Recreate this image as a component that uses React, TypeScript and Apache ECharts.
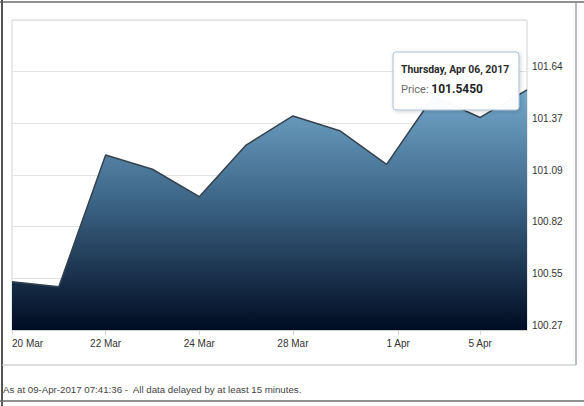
import React, { useEffect, useRef } from "react";
import * as echarts from "echarts";

// ---- data ----
const dates = [
  "2017-03-20", "2017-03-21", "2017-03-22", "2017-03-23", "2017-03-24",
  "2017-03-27", "2017-03-28", "2017-03-29", "2017-03-31",
  "2017-04-04", "2017-04-05", "2017-04-06",
];
const prices = [
  100.530, 100.503, 101.200, 101.125, 100.980,
  101.253, 101.407, 101.329, 101.151,
  101.510, 101.399, 101.545,
];
const tickDates = ["2017-03-20", "2017-03-22", "2017-03-24", "2017-03-28", "2017-04-01", "2017-04-05"];
const yBase = 100.274;
const yStep = 0.2735;
const ySteps = 6;
const tooltipTitle = "Thursday, Apr 06, 2017";
const tooltipLabel = "Price: ";
const tooltipValue = "101.5450";
const footerText = "As at 09-Apr-2017 07:41:36 -  All data delayed by at least 15 minutes.";

const MONTHS = ["Jan", "Feb", "Mar", "Apr", "May", "Jun", "Jul", "Aug", "Sep", "Oct", "Nov", "Dec"];
const toMs = (s: string) => {
  const [y, m, d] = s.split("-").map(Number);
  return Date.UTC(y, m - 1, d);
};
const dateMs = dates.map(toMs);
// ordinal position (Highstock-like) of a date between data points
const ordinalPos = (s: string) => {
  const t = toMs(s);
  for (let i = 0; i < dateMs.length - 1; i++) {
    if (t >= dateMs[i] && t <= dateMs[i + 1]) {
      return i + (t - dateMs[i]) / (dateMs[i + 1] - dateMs[i]);
    }
  }
  return t <= dateMs[0] ? 0 : dateMs.length - 1;
};
const tickPos = tickDates.map(ordinalPos);
const tickLabel = (s: string) => {
  const [, m, d] = s.split("-").map(Number);
  return `${d} ${MONTHS[m - 1]}`;
};

export default function App() {
  const ref = useRef<HTMLDivElement>(null);
  useEffect(() => {
    document.body.style.margin = "0";
    const chart = echarts.init(ref.current!, null, { renderer: "svg" });
    const axisFont = "Arial, 'Liberation Sans', sans-serif";
    const tipFont = "Roboto, 'Open Sans', sans-serif";
    chart.setOption({
      animation: false,
      backgroundColor: "#ffffff",
      grid: {
        left: 12,
        top: 20,
        width: 515,
        height: 310,
        show: true,
        borderColor: "#d2d2d2",
        borderWidth: 1,
        backgroundColor: "#ffffff",
        containLabel: false,
        outerBoundsMode: "none",
      },
      xAxis: {
        type: "value",
        min: 0,
        max: dates.length - 1,
        axisLine: { show: true, lineStyle: { color: "#cfcfcf", width: 1 } },
        axisTick: {
          show: true,
          customValues: tickPos,
          length: 5,
          lineStyle: { color: "#d6d6d6" },
        },
        splitLine: { show: false },
        axisLabel: {
          customValues: tickPos,
          alignMinLabel: "left",
          margin: 8,
          fontSize: 10,
          fontFamily: axisFont,
          color: "#333333",
          formatter: (v: number) => {
            let best = 0;
            tickPos.forEach((p, i) => {
              if (Math.abs(p - v) < Math.abs(tickPos[best] - v)) best = i;
            });
            return tickLabel(tickDates[best]);
          },
        },
      },
      yAxis: {
        type: "value",
        position: "right",
        min: 0,
        max: +(yStep * ySteps).toFixed(4),
        interval: yStep,
        axisLine: { show: false },
        axisTick: { show: false },
        splitLine: { show: true, lineStyle: { color: "#e2e2e2", width: 1 } },
        axisLabel: {
          margin: 5,
          fontSize: 10,
          lineHeight: 10,
          verticalAlign: "bottom",
          fontFamily: axisFont,
          color: "#333333",
          formatter: (v: number) =>
            v >= yStep * ySteps - 1e-6 ? "" : (yBase + v).toFixed(2),
        },
      },
      series: [
        {
          type: "line",
          z: 2,
          data: prices.map((p, i) => [i, +(p - yBase).toFixed(4)]),
          symbol: "none",
          lineStyle: { color: "#34434f", width: 1.5 },
          areaStyle: {
            opacity: 1,
            color: new echarts.graphic.LinearGradient(0, 0, 0, 1, [
              { offset: 0, color: "#74a8cb" },
              { offset: 0.45, color: "#3e6788" },
              { offset: 1, color: "#000c22" },
            ]),
          },
        },
      ],
      graphic: {
        z: 100,
        elements: [
          // outer frame
          { type: "line", z: 100, shape: { x1: 0, y1: 2, x2: 584, y2: 2 }, style: { stroke: "#6a6a6a", lineWidth: 1.5 }, silent: true },
          { type: "line", z: 100, shape: { x1: 2, y1: 0, x2: 2, y2: 406 }, style: { stroke: "#555555", lineWidth: 2 }, silent: true },
          { type: "line", z: 100, shape: { x1: 576, y1: 2, x2: 576, y2: 365 }, style: { stroke: "#8a8f96", lineWidth: 1.2 }, silent: true },
          { type: "line", z: 100, shape: { x1: 2, y1: 365, x2: 576, y2: 365 }, style: { stroke: "#b9bec4", lineWidth: 1 }, silent: true },
          { type: "line", z: 100, shape: { x1: 0, y1: 401, x2: 584, y2: 401 }, style: { stroke: "#6a6a6a", lineWidth: 1.5 }, silent: true },
          // footer
          {
            type: "text",
            z: 100,
            x: 3,
            y: 389,
            style: {
              text: footerText,
              fontSize: 9.7,
              fontFamily: axisFont,
              fill: "#444444",
              verticalAlign: "middle",
            },
            silent: true,
          },
          // static tooltip box
          {
            type: "rect",
            z: 100,
            shape: { x: 393, y: 52, width: 126, height: 58, r: 3 },
            style: {
              fill: "rgba(255,255,255,0.97)",
              stroke: "#a9c0d4",
              lineWidth: 1,
              shadowBlur: 4,
              shadowColor: "rgba(0,0,0,0.18)",
              shadowOffsetX: 1,
              shadowOffsetY: 1,
            },
            silent: true,
          },
          {
            type: "text",
            z: 101,
            x: 401,
            y: 69,
            style: {
              text: tooltipTitle,
              fontSize: 10.4,
              fontWeight: "bold",
              fontFamily: tipFont,
              fill: "#2b2b2b",
              verticalAlign: "middle",
            },
            silent: true,
          },
          {
            type: "text",
            z: 101,
            x: 401,
            y: 89,
            style: {
              text: `{l|${tooltipLabel}}{v|${tooltipValue}}`,
              verticalAlign: "middle",
              rich: {
                l: { fontSize: 11, fontFamily: tipFont, fill: "#6b6b6b", color: "#6b6b6b" },
                v: { fontSize: 12, fontWeight: "bold", fontFamily: tipFont, fill: "#1f1f1f", color: "#1f1f1f" },
              },
            },
            silent: true,
          },
        ],
      },
    });
    return () => chart.dispose();
  }, []);
  return (
    <div
      ref={ref}
      style={{ position: "absolute", left: 0, top: 0, width: 584, height: 406 }}
    />
  );
}
